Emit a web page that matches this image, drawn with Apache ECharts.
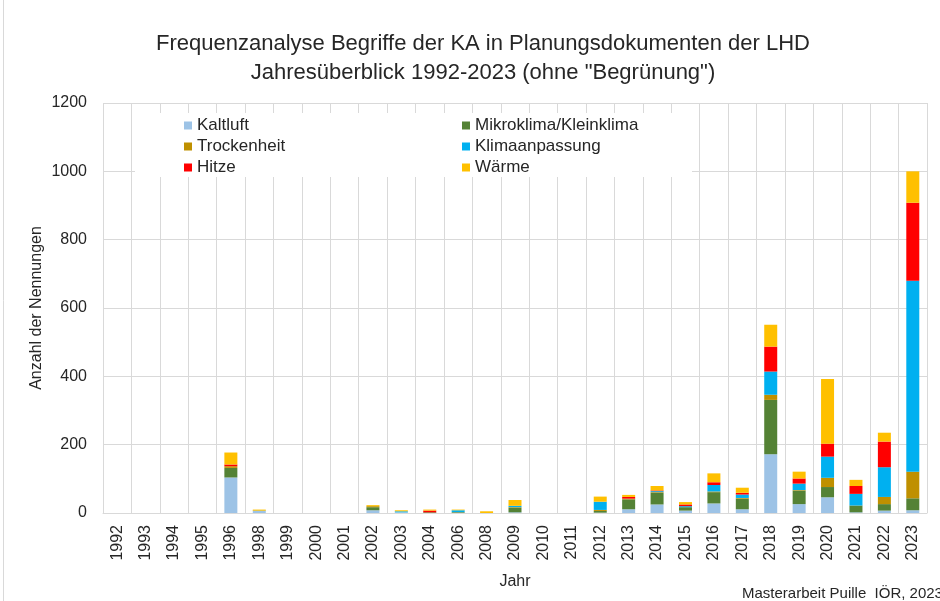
<!DOCTYPE html>
<html>
<head>
<meta charset="utf-8">
<script src="https://cdn.jsdelivr.net/npm/echarts@6/dist/echarts.min.js"></script>
<style>
html, body { margin: 0; padding: 0; background: #fff; }
#chart { width: 940px; height: 601px; }
</style>
</head>
<body>
<div id="chart"></div>
<script>
// Jahre (Kategorien)
var years = ['1992', '1993', '1994', '1995', '1996', '1998', '1999', '2000', '2001', '2002',
	'2003', '2004', '2006', '2008', '2009', '2010', '2011', '2012', '2013', '2014',
	'2015', '2016', '2017', '2018', '2019', '2020', '2021', '2022', '2023'];

// Nennungen je Begriff
var kaltluft = [0, 0, 0, 0, 104, 6, 0, 0, 0, 8, 2, 0, 1, 0, 2, 0, 0, 1, 11, 25, 7, 28, 11, 172, 26, 46, 2, 7, 8];
var mikroklima = [0, 0, 0, 0, 28, 1, 0, 0, 0, 9, 0, 2, 2, 0, 13, 0, 0, 5, 29, 34, 10, 33, 31, 159, 39, 30, 20, 19, 35];
var trockenheit = [0, 0, 0, 0, 5, 0, 0, 0, 0, 3, 0, 0, 0, 0, 2, 0, 0, 3, 2, 2, 0, 2, 2, 15, 2, 27, 0, 21, 78];
var klimaanpassung = [0, 0, 0, 0, 0, 0, 0, 0, 0, 0, 3, 0, 5, 0, 4, 0, 0, 24, 0, 3, 3, 19, 10, 68, 19, 62, 34, 87, 559];
var hitze = [0, 0, 0, 0, 5, 0, 0, 0, 0, 0, 0, 5, 0, 0, 0, 0, 0, 0, 5, 2, 5, 8, 5, 73, 15, 38, 23, 75, 228];
var waerme = [0, 0, 0, 0, 35, 3, 0, 0, 0, 3, 3, 3, 2, 5, 17, 0, 0, 15, 6, 13, 7, 26, 15, 64, 20, 189, 18, 26, 92];

var yTicks = [0, 200, 400, 600, 800, 1000, 1200];

var font = '"Liberation Sans", Arial, sans-serif';

function bar(name, data, color) {
	return {
		name : name,
		type : 'bar',
		stack : 'total',
		barWidth : 13,
		data : data,
		itemStyle : {
			color : color
		}
	};
}

function legend(items, left) {
	return {
		data : items,
		orient : 'vertical',
		left : left,
		top : 117,
		padding : 0,
		itemWidth : 8,
		itemHeight : 8,
		itemGap : 4,
		icon : 'rect',
		textStyle : {
			fontFamily : font,
			fontSize : 17,
			lineHeight : 17,
			color : '#262626'
		}
	};
}

var chart = echarts.init(document.getElementById('chart'));
var option = {
	backgroundColor : '#fff',
	textStyle : {
		fontFamily : font
	},
	title : {
		text : 'Frequenzanalyse Begriffe der KA in Planungsdokumenten der LHD\nJahresüberblick 1992-2023 (ohne "Begrünung")',
		left : 478,
		textAlign : 'center',
		top : 24,
		textStyle : {
			fontFamily : font,
			fontSize : 22,
			fontWeight : 'normal',
			color : '#262626',
			lineHeight : 29
		}
	},
	legend : [ legend([ 'Kaltluft', 'Trockenheit', 'Hitze' ], 184),
			legend([ 'Mikroklima/Kleinklima', 'Klimaanpassung', 'Wärme' ], 462) ],
	grid : {
		left : 103,
		right : 13,
		top : 103,
		bottom : 88,
		containLabel : false
	},
	xAxis : {
		type : 'category',
		data : years,
		name : 'Jahr',
		nameLocation : 'middle',
		nameGap : 61,
		nameMoveOverlap : false,
		nameTextStyle : {
			fontFamily : font,
			fontSize : 16,
			color : '#262626'
		},
		axisLine : {
			lineStyle : {
				color : '#d9d9d9'
			}
		},
		axisTick : {
			show : false
		},
		axisLabel : {
			interval : 0,
			rotate : 90,
			margin : 12,
			fontFamily : font,
			fontSize : 16,
			color : '#262626'
		},
		splitLine : {
			show : true,
			interval : 0,
			lineStyle : {
				color : '#d9d9d9'
			}
		}
	},
	yAxis : {
		type : 'value',
		min : yTicks[0],
		max : yTicks[yTicks.length - 1],
		interval : 200,
		name : 'Anzahl der Nennungen',
		nameLocation : 'middle',
		nameGap : 58,
		nameMoveOverlap : false,
		nameTextStyle : {
			fontFamily : font,
			fontSize : 16,
			color : '#262626'
		},
		axisLine : {
			show : false
		},
		axisTick : {
			show : false
		},
		axisLabel : {
			margin : 16,
			fontFamily : font,
			fontSize : 16,
			color : '#262626',
			formatter : function(v) {
				return String(v);
			}
		},
		splitLine : {
			lineStyle : {
				color : '#d9d9d9'
			}
		}
	},
	graphic : [ {
		// weisser Hintergrund der Legende
		type : 'rect',
		z : 1,
		shape : {
			x : 135,
			y : 113,
			width : 557,
			height : 64
		},
		style : {
			fill : '#fff'
		}
	}, {
		type : 'line',
		shape : {
			x1 : 3.5,
			y1 : 0,
			x2 : 3.5,
			y2 : 601
		},
		style : {
			stroke : '#d9d9d9'
		}
	}, {
		type : 'text',
		left : 742,
		top : 586,
		style : {
			text : 'Masterarbeit Puille  IÖR, 2023',
			font : '15px ' + font,
			fill : '#262626'
		}
	} ],
	series : [ bar('Kaltluft', kaltluft, '#9dc3e6'),
			bar('Mikroklima/Kleinklima', mikroklima, '#548235'),
			bar('Trockenheit', trockenheit, '#bf9000'),
			bar('Klimaanpassung', klimaanpassung, '#00b0f0'),
			bar('Hitze', hitze, '#ff0000'),
			bar('Wärme', waerme, '#ffc000') ]
};
chart.setOption(option);
</script>
</body>
</html>
